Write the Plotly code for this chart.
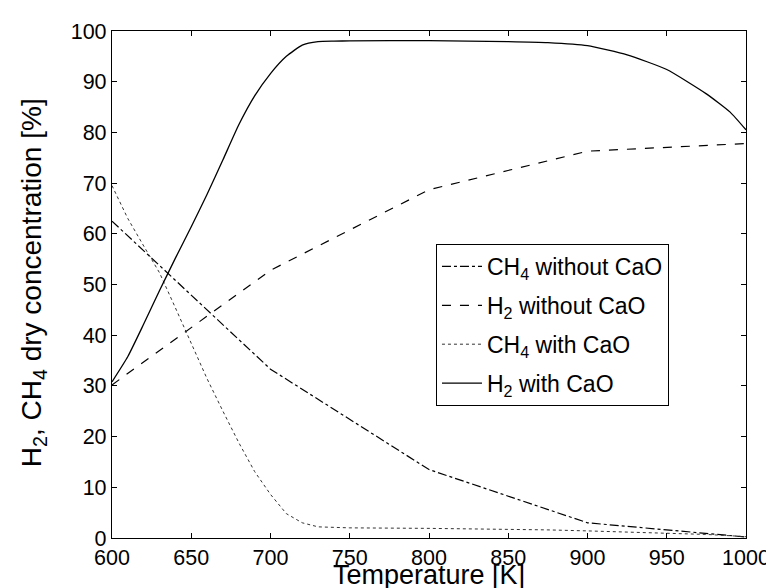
import plotly.graph_objects as go

# Temperature grids [K]
T_without = [600, 700, 800, 900, 1000]
ch4_without = [62.5, 33.3, 13.5, 3.0, 0.2]
h2_without = [30.2, 52.8, 68.7, 76.3, 77.8]

T_with = [600, 610, 620, 630, 640, 650, 660, 670, 680, 690, 700, 710, 720, 730,
          740, 750, 800, 850, 875, 900, 925, 950, 975, 990, 1000]
ch4_with = [69.5, 63.0, 57.6, 52.3, 45.4, 38.3, 31.4, 25.0, 18.8, 13.1, 8.6, 4.8,
            3.0, 2.2, 2.05, 2.0, 1.9, 1.75, 1.6, 1.4, 1.2, 1.0, 0.7, 0.45, 0.25]
h2_with = [30.8, 35.8, 42.2, 48.8, 55.2, 61.4, 67.8, 74.6, 81.5, 87.2, 91.6, 95.0,
           97.2, 97.9, 98.0, 98.05, 98.1, 97.9, 97.7, 97.1, 95.3, 92.4, 87.6, 84.0, 80.5]

x_ticks = [600, 650, 700, 750, 800, 850, 900, 950, 1000]
y_ticks = [0, 10, 20, 30, 40, 50, 60, 70, 80, 90, 100]

x_title = "Temperature [K]"
y_title = "H<sub>2</sub>, CH<sub>4</sub> dry concentration [%]"

FONT = "Liberation Sans, Arial, Helvetica, sans-serif"

fig = go.Figure()
fig.add_trace(go.Scatter(x=T_without, y=ch4_without, mode="lines",
                         name="CH<sub>4</sub> without CaO", legendgroup="a",
                         line=dict(color="black", width=1.2, dash="dashdot")))
fig.add_trace(go.Scatter(x=T_without, y=h2_without, mode="lines",
                         name="H<sub>2</sub> without CaO", legendgroup="b",
                         line=dict(color="black", width=1.2, dash="dash")))
fig.add_trace(go.Scatter(x=T_with, y=ch4_with, mode="lines",
                         name="CH<sub>4</sub> with CaO", legendgroup="c",
                         line=dict(color="#333333", width=1, dash="dot")))
fig.add_trace(go.Scatter(x=T_with, y=h2_with, mode="lines",
                         name="H<sub>2</sub> with CaO", legendgroup="d",
                         line=dict(color="black", width=1.3, dash="solid",
                                   shape="spline", smoothing=0.5)))

axis_common = dict(showgrid=False, zeroline=False, showline=True, linecolor="black",
                   linewidth=1.3, mirror="ticks", ticks="inside", ticklen=5,
                   tickcolor="black", tickwidth=1, tickfont=dict(size=21.5, color="black"))

fig.update_xaxes(range=[600, 1000], tickvals=x_ticks, ticktext=[str(v) for v in x_ticks],
                 **axis_common)
fig.update_yaxes(range=[0, 100], tickvals=y_ticks, ticktext=[str(v) for v in y_ticks],
                 **axis_common)

fig.add_annotation(text=x_title, xref="paper", yref="paper", x=0.5, y=-0.073,
                   xanchor="center", yanchor="middle", showarrow=False,
                   font=dict(size=27, color="black"))
fig.add_annotation(text=y_title, xref="paper", yref="paper", x=-0.1227, y=0.503,
                   xanchor="center", yanchor="middle", showarrow=False, textangle=-90,
                   font=dict(size=28, color="black"))

fig.update_layout(
    width=774, height=588,
    margin=dict(l=104, r=26, t=23, b=58),
    paper_bgcolor="white", plot_bgcolor="white",
    font=dict(family=FONT, color="black"),
    showlegend=True,
    legend=dict(x=0.511, y=0.58, xanchor="left", yanchor="top",
                bordercolor="black", borderwidth=1, bgcolor="white",
                font=dict(size=23, color="black"), tracegroupgap=6,
                traceorder="grouped", itemwidth=40),
)

fig.write_html("out.html")
